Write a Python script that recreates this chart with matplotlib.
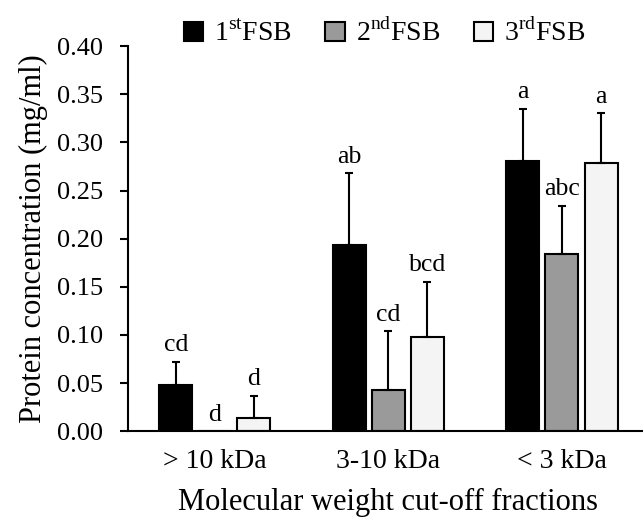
import matplotlib
matplotlib.use('Agg')
import matplotlib.pyplot as plt
from matplotlib.patches import Patch
import numpy as np

plt.rcParams['font.family'] = ['Liberation Serif', 'DejaVu Serif']
plt.rcParams['mathtext.fontset'] = 'custom'
plt.rcParams['mathtext.rm'] = 'Liberation Serif'

# data
categories = ['> 10 kDa', '3-10 kDa', '< 3 kDa']
series = ['1$^{\\rm st}$FSB', '2$^{\\rm nd}$FSB', '3$^{\\rm rd}$FSB']
fsb1 = [0.048, 0.193, 0.281]
fsb2 = [0.0, 0.043, 0.184]
fsb3 = [0.014, 0.098, 0.279]
err1 = [0.024, 0.075, 0.054]
err2 = [0.0, 0.061, 0.050]
err3 = [0.023, 0.057, 0.051]
letters1 = ['cd', 'ab', 'a']
letters2 = ['d', 'cd', 'abc']
letters3 = ['d', 'bcd', 'a']

colors = ['#000000', '#9a9a9a', '#f4f4f4']

fig = plt.figure(figsize=(6.43, 5.26), dpi=100)
ax = fig.add_axes([0.199, 0.18, 0.81, 0.7325])

x = np.arange(len(categories))
width = 0.19
offs = [-0.225, 0, 0.225]
vals = [fsb1, fsb2, fsb3]
errs = [err1, err2, err3]
lets = [letters1, letters2, letters3]

for i in range(3):
    v = np.array(vals[i])
    e = np.array(errs[i])
    ax.bar(x + offs[i], v, width, color=colors[i], edgecolor='black', linewidth=1.5, zorder=2)
    show = e > 0
    ax.errorbar((x + offs[i])[show], v[show], yerr=[np.zeros(show.sum()), e[show]],
                fmt='none', ecolor='black', elinewidth=1.5, capsize=3, capthick=1.5, zorder=3)
    for j in range(len(categories)):
        ax.annotate(lets[i][j], (x[j] + offs[i], v[j] + e[j]), xytext=(0, 4),
                    textcoords='offset points', ha='center', va='bottom', fontsize=18.5)

ax.set_xlim(-0.5, 2.5)
ax.set_ylim(0, 0.4)
ax.set_yticks(np.arange(0, 0.41, 0.05))
ax.set_yticklabels(['%.2f' % t for t in np.arange(0, 0.41, 0.05)])
ax.set_xticks(x)
ax.set_xticklabels(categories)
ax.tick_params(axis='y', direction='out', length=6, width=1.5, labelsize=19, pad=12)
ax.tick_params(axis='x', length=0, labelsize=20, pad=13)
for s in ['top', 'right']:
    ax.spines[s].set_visible(False)
for s in ['left', 'bottom']:
    ax.spines[s].set_linewidth(1.5)

ax.set_ylabel('Protein concentration (mg/ml)', fontsize=22, labelpad=6)
ax.set_xlabel('Molecular weight cut-off fractions', fontsize=22, labelpad=10)

handles = [Patch(facecolor=colors[i], edgecolor='black', linewidth=1.5) for i in range(3)]
fig.legend(handles, series, loc='center', bbox_to_anchor=(0.598, 0.937), ncol=3,
           frameon=False, fontsize=20, handlelength=0.7, handleheight=0.7,
           handletextpad=0.4, columnspacing=1.2, borderpad=0)

fig.savefig('out.png', dpi=100)
